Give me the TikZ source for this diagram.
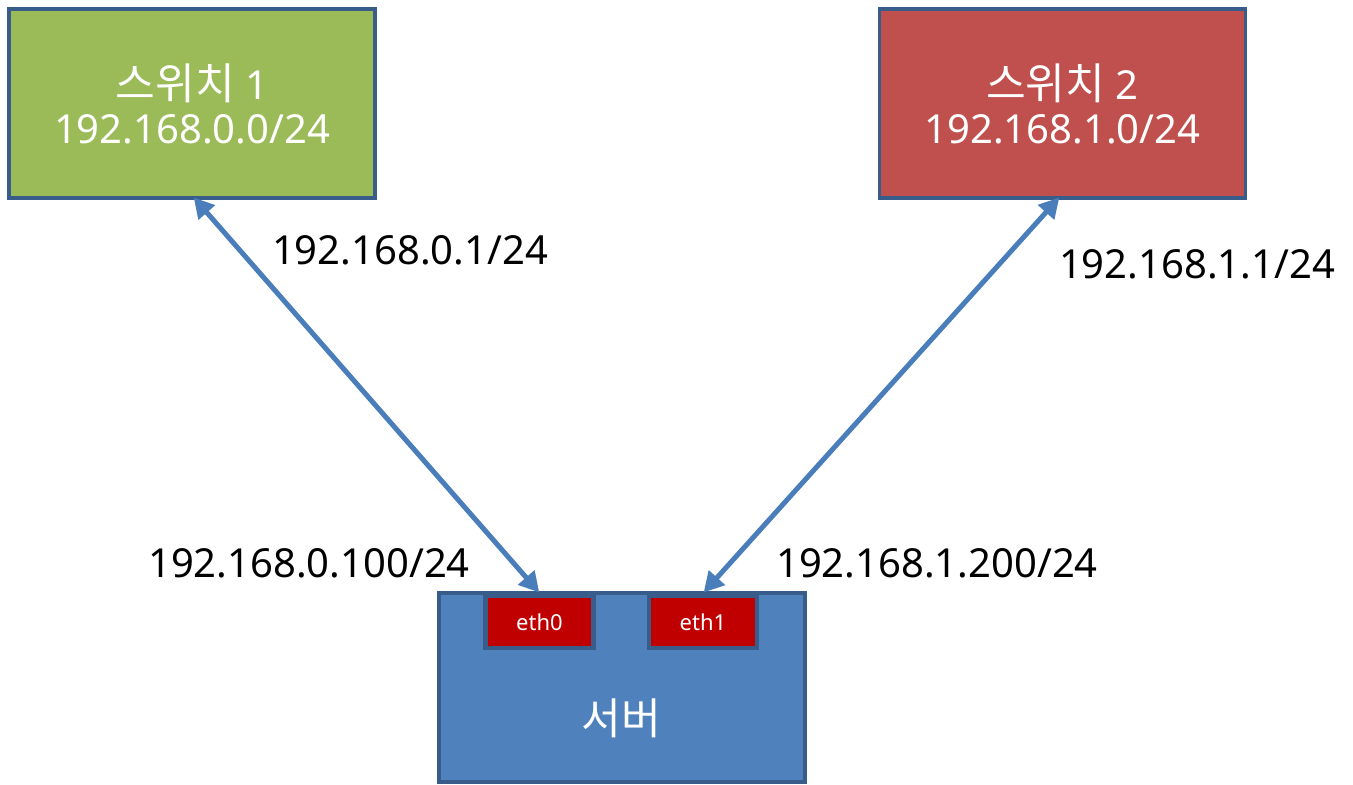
\documentclass[tikz,border=0pt]{standalone}
\usepackage{fontspec}
\setmainfont{Noto Sans}
\newfontfamily\kr{Noto Sans CJK KR}[Scale=1.08]
\usetikzlibrary{arrows.meta}
\definecolor{bord}{HTML}{385D8A}
\definecolor{swgreen}{HTML}{9BBB59}
\definecolor{swred}{HTML}{C0504D}
\definecolor{srvblue}{HTML}{4F81BD}
\definecolor{ethred}{HTML}{C00000}
\definecolor{arr}{HTML}{4A7EBB}
\tikzset{
  box/.style={draw=bord, line width=3.5pt, minimum width=366pt, minimum height=189pt, inner sep=0pt},
  ethbox/.style={draw=bord, line width=4.5pt, fill=ethred, minimum width=108pt, minimum height=52pt, inner sep=0pt, text=white, font=\fontsize{22pt}{26pt}\selectfont},
  big/.style={font=\fontsize{40pt}{52pt}\selectfont},
  lbl/.style={big, text=black, inner sep=0pt},
  link/.style={arr, line width=5pt, {Triangle[length=20pt,width=21pt]}-{Triangle[length=20pt,width=21pt]}, shorten <=-2pt, shorten >=-2pt}
}
\begin{document}
\begin{tikzpicture}[x=1pt,y=1pt]
\useasboundingbox (0,0) rectangle (1353,785);
% switch boxes (y = 785 - pixel y)
\node[box, fill=swgreen, text=white, align=center, big] (sw1) at (192,681.5)
  {{\kr 스위치} 1\\[-8pt]192.168.0.0/24};
\node[box, fill=swred, text=white, align=center, big] (sw2) at (1062.5,681.5)
  {{\kr 스위치} 2\\[-8pt]192.168.1.0/24};
% server
\node[box, fill=srvblue] (srv) at (622,97.5) {};
\node[text=white, font=\kr\fontsize{40pt}{44pt}\selectfont] (srvlbl) at (621,67) {서버};
\node[ethbox] (eth0) at (539.5,163) {eth0};
\node[ethbox] (eth1) at (703,163) {eth1};
% link end points
\coordinate (p1) at (195,586);
\coordinate (p2) at (1058,586);
\coordinate (q1) at (538,194);
\coordinate (q2) at (705,194);
\draw[link] (p1) -- (q1);
\draw[link] (p2) -- (q2);
% labels
\node[lbl] (l1) at (410,535) {192.168.0.1/24};
\node[lbl] (l2) at (1197,521) {192.168.1.1/24};
\node[lbl] (l3) at (309,222) {192.168.0.100/24};
\node[lbl] (l4) at (937,222) {192.168.1.200/24};
\end{tikzpicture}
\end{document}
